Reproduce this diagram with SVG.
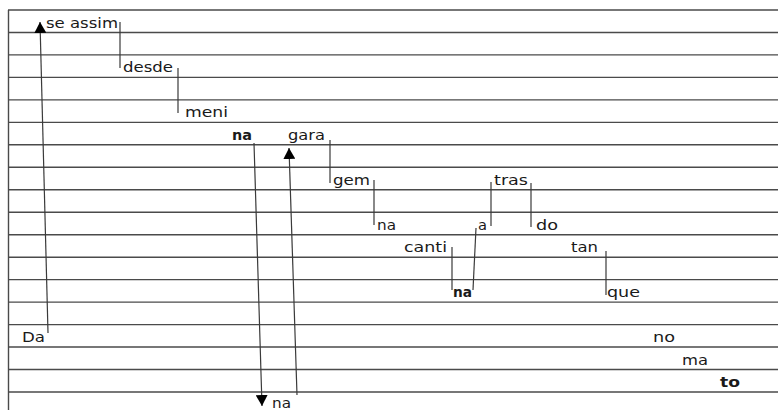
<svg xmlns="http://www.w3.org/2000/svg" width="778" height="410" viewBox="0 0 778 410">
<defs>
<style>
.rule{stroke:#4a4a4a;stroke-width:1.4;fill:none}
.conn{stroke:#3a3a3a;stroke-width:1.2;fill:none}
.t{font-family:"DejaVu Sans","Liberation Sans",sans-serif;font-size:14.5px;fill:#1a1a1a}
.b{font-weight:bold}
</style>
<marker id="ah" viewBox="0 0 11 12" refX="11" refY="6" markerWidth="11" markerHeight="12" markerUnits="userSpaceOnUse" orient="auto">
<path d="M0,0 L11,6 L0,12 Z" fill="#000"/>
</marker>
</defs>
<rect width="778" height="410" fill="#fff"/>
<g id="ruling">
<line class="rule" x1="8.5" y1="10" x2="8.5" y2="410"/>
<line class="rule" x1="8" y1="10" x2="778" y2="10"/>
<line class="rule" x1="8" y1="32.5" x2="778" y2="32.5"/>
<line class="rule" x1="8" y1="54.9" x2="778" y2="54.9"/>
<line class="rule" x1="8" y1="77.4" x2="778" y2="77.4"/>
<line class="rule" x1="8" y1="99.9" x2="778" y2="99.9"/>
<line class="rule" x1="8" y1="122.4" x2="778" y2="122.4"/>
<line class="rule" x1="8" y1="144.8" x2="778" y2="144.8"/>
<line class="rule" x1="8" y1="167.3" x2="778" y2="167.3"/>
<line class="rule" x1="8" y1="189.8" x2="778" y2="189.8"/>
<line class="rule" x1="8" y1="212.2" x2="778" y2="212.2"/>
<line class="rule" x1="8" y1="234.7" x2="778" y2="234.7"/>
<line class="rule" x1="8" y1="257.2" x2="778" y2="257.2"/>
<line class="rule" x1="8" y1="279.6" x2="778" y2="279.6"/>
<line class="rule" x1="8" y1="302.1" x2="778" y2="302.1"/>
<line class="rule" x1="8" y1="324.6" x2="778" y2="324.6"/>
<line class="rule" x1="8" y1="347" x2="778" y2="347"/>
<line class="rule" x1="8" y1="369.5" x2="778" y2="369.5"/>
<line class="rule" x1="8" y1="392" x2="778" y2="392"/>
</g>
<g id="connectors">
<line class="conn" x1="120" y1="22" x2="120" y2="68"/>
<line class="conn" x1="178" y1="68" x2="178" y2="113"/>
<line class="conn" x1="330" y1="140" x2="330" y2="183"/>
<line class="conn" x1="374" y1="180" x2="374" y2="225"/>
<line class="conn" x1="452" y1="247" x2="452" y2="290"/>
<line class="conn" x1="473" y1="290" x2="476" y2="228"/>
<line class="conn" x1="491" y1="182" x2="491" y2="226"/>
<line class="conn" x1="531" y1="183" x2="531" y2="227"/>
<line class="conn" x1="606" y1="251" x2="606" y2="295"/>
<line class="conn" x1="48" y1="333" x2="40" y2="22" marker-end="url(#ah)"/>
<line class="conn" x1="254" y1="143" x2="262" y2="406" marker-end="url(#ah)"/>
<line class="conn" x1="297" y1="395" x2="289" y2="148" marker-end="url(#ah)"/>
</g>
<g id="n-se-assim"><text class="t" x="46" y="27.5" textLength="72" lengthAdjust="spacingAndGlyphs">se assim</text></g>
<g id="n-desde"><text class="t" x="123" y="72.4" textLength="50" lengthAdjust="spacingAndGlyphs">desde</text></g>
<g id="n-meni"><text class="t" x="185" y="117.4" textLength="43" lengthAdjust="spacingAndGlyphs">meni</text></g>
<g id="n-na1"><text class="t b" x="232" y="139.8" textLength="20" lengthAdjust="spacingAndGlyphs">na</text></g>
<g id="n-gara"><text class="t" x="288" y="139.8" textLength="37" lengthAdjust="spacingAndGlyphs">gara</text></g>
<g id="n-gem"><text class="t" x="333" y="184.8" textLength="37" lengthAdjust="spacingAndGlyphs">gem</text></g>
<g id="n-tras"><text class="t" x="494" y="184.8" textLength="34" lengthAdjust="spacingAndGlyphs">tras</text></g>
<g id="n-na2"><text class="t" x="377" y="229.7" textLength="19" lengthAdjust="spacingAndGlyphs">na</text></g>
<g id="n-a"><text class="t" x="478" y="229.7" textLength="9" lengthAdjust="spacingAndGlyphs">a</text></g>
<g id="n-do"><text class="t" x="536" y="229.7" textLength="22" lengthAdjust="spacingAndGlyphs">do</text></g>
<g id="n-canti"><text class="t" x="404" y="252.2" textLength="43" lengthAdjust="spacingAndGlyphs">canti</text></g>
<g id="n-tan"><text class="t" x="571" y="252.2" textLength="27" lengthAdjust="spacingAndGlyphs">tan</text></g>
<g id="n-na3"><text class="t b" x="453" y="297.1" textLength="19" lengthAdjust="spacingAndGlyphs">na</text></g>
<g id="n-que"><text class="t" x="607" y="297.1" textLength="33" lengthAdjust="spacingAndGlyphs">que</text></g>
<g id="n-da"><text class="t" x="22" y="342" textLength="23" lengthAdjust="spacingAndGlyphs">Da</text></g>
<g id="n-no"><text class="t" x="653" y="342" textLength="22" lengthAdjust="spacingAndGlyphs">no</text></g>
<g id="n-ma"><text class="t" x="682" y="364.5" textLength="26" lengthAdjust="spacingAndGlyphs">ma</text></g>
<g id="n-to"><text class="t b" x="720" y="387" textLength="20" lengthAdjust="spacingAndGlyphs">to</text></g>
<g id="n-na4"><text class="t" x="272" y="407.5" textLength="19" lengthAdjust="spacingAndGlyphs">na</text></g>
</svg>
